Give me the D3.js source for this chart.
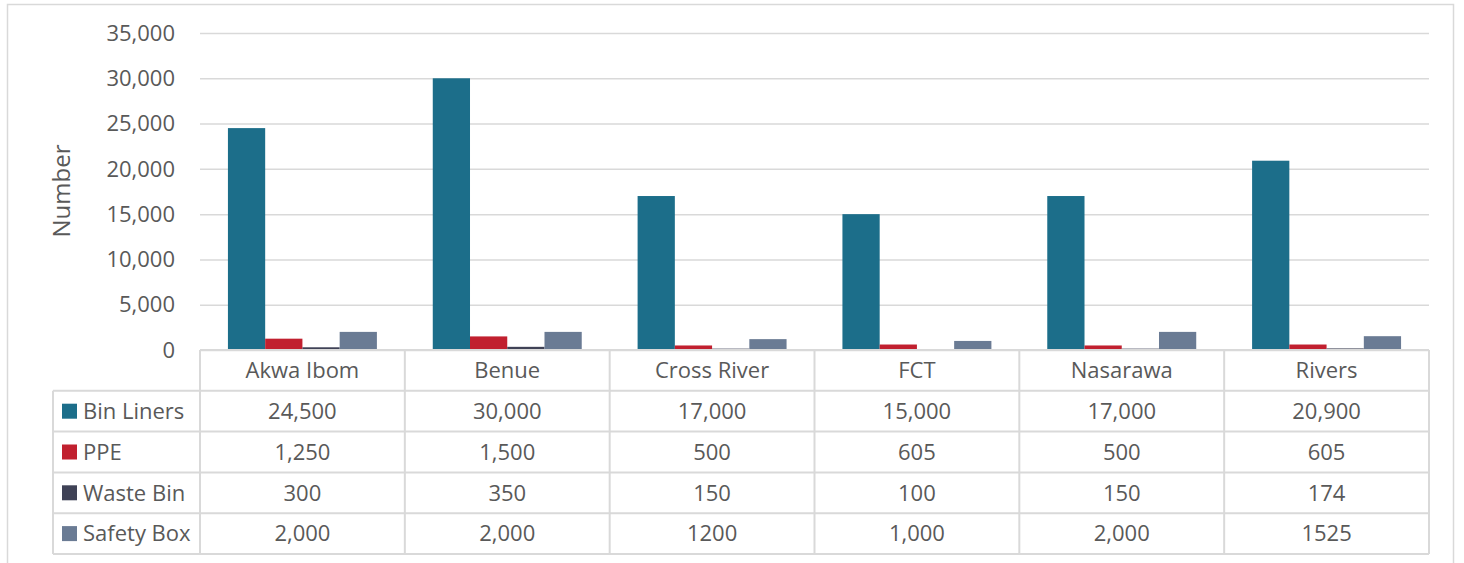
<!DOCTYPE html>
<html>
<head>
    <meta charset="utf-8">
    <style>
        body{
            margin: 0;
            background-color: white;
        }
        svg text{
            font-family: "Open Sans", "Noto Sans", sans-serif;
            fill: #595959;
        }
        .grid line{
            stroke: #d9d9d9;
            stroke-width: 1.5px;
        }
        .grid path{
            stroke-width: 0;
        }
        .table line{
            stroke: #d9d9d9;
            stroke-width: 2px;
        }
    </style>
</head>
<body>
    <svg class="vis"></svg>

    <script src="https://cdnjs.cloudflare.com/ajax/libs/d3/7.8.5/d3.min.js"></script>
    <script>

        var categories = ["Akwa Ibom", "Benue", "Cross River", "FCT", "Nasarawa", "Rivers"];
        var seriesNames = ["Bin Liners", "PPE", "Waste Bin", "Safety Box"];
        var seriesColors = ["#1c6e8a", "#c1202f", "#3f4256", "#6a7b94"];

        var binLiners = [24500, 30000, 17000, 15000, 17000, 20900];
        var ppe = [1250, 1500, 500, 605, 500, 605];
        var wasteBin = [300, 350, 150, 100, 150, 174];
        var safetyBox = [2000, 2000, 1200, 1000, 2000, 1525];

        // table cells are written as in the source (some without separators)
        var binLinersText = ["24,500", "30,000", "17,000", "15,000", "17,000", "20,900"];
        var ppeText = ["1,250", "1,500", "500", "605", "500", "605"];
        var wasteBinText = ["300", "350", "150", "100", "150", "174"];
        var safetyBoxText = ["2,000", "2,000", "1200", "1,000", "2,000", "1525"];

        var yTicks = [0, 5000, 10000, 15000, 20000, 25000, 30000, 35000];

        var series = [binLiners, ppe, wasteBin, safetyBox];
        var seriesText = [binLinersText, ppeText, wasteBinText, safetyBoxText];

        var width = 1464;
        var height = 563;
        var plot = {left: 200, right: 1429, top: 33, bottom: 350};
        var rowH = 40.8;
        var legendLeft = 53;
        var fontSize = 22;

        var vis = d3.select("svg.vis")
                 .attr("width", width)
                 .attr("height", height);

        // chart frame
        vis.append("rect")
            .attr("x", 7.5).attr("y", 4.5)
            .attr("width", 1446).attr("height", 580)
            .attr("fill", "none")
            .attr("stroke", "#d9d9d9")
            .attr("stroke-width", 1.5);

        var x0 = d3.scaleBand()
            .domain(categories)
            .range([plot.left, plot.right]);

        var bw = x0.bandwidth() / 5.5;
        var x1 = d3.scaleBand()
            .domain(seriesNames)
            .range([bw * 0.75, bw * 4.75]);

        var y = d3.scaleLinear()
            .domain([0, 35000])
            .range([plot.bottom, plot.top]);

        // gridlines
        vis.append("g")
            .attr("class", "grid")
            .attr("transform", `translate(${plot.left},0)`)
            .call(d3.axisLeft(y).tickValues(yTicks).tickSize(-(plot.right - plot.left)).tickFormat(""));

        // y tick labels
        vis.append("g")
            .selectAll("text")
            .data(yTicks)
            .enter()
            .append("text")
            .attr("x", 175)
            .attr("y", d => y(d))
            .attr("dy", "0.35em")
            .attr("text-anchor", "end")
            .attr("font-size", fontSize + "px")
            .text(d3.format(","));

        // axis title
        vis.append("text")
            .attr("transform", "translate(70,191) rotate(-90)")
            .attr("text-anchor", "middle")
            .attr("font-size", "24px")
            .text("Number");

        // bars
        var groups = vis.append("g")
            .selectAll("g")
            .data(categories)
            .enter()
            .append("g")
            .attr("transform", d => `translate(${x0(d)},0)`);

        groups.selectAll("rect")
            .data((c, ci) => seriesNames.map((s, si) => ({s: s, si: si, v: series[si][ci]})))
            .enter()
            .append("rect")
            .attr("x", d => x1(d.s))
            .attr("width", x1.bandwidth())
            .attr("y", d => y(d.v))
            .attr("height", d => y(0) - y(d.v))
            .attr("fill", d => seriesColors[d.si]);

        // data table
        var table = vis.append("g").attr("class", "table");
        var nRows = seriesNames.length;
        var tableBottom = plot.bottom + rowH * (nRows + 1);

        // horizontal lines
        table.append("line")
            .attr("x1", plot.left).attr("x2", plot.right)
            .attr("y1", plot.bottom).attr("y2", plot.bottom);
        d3.range(1, nRows + 2).forEach(function(i){
            table.append("line")
                .attr("x1", legendLeft).attr("x2", plot.right)
                .attr("y1", plot.bottom + rowH * i).attr("y2", plot.bottom + rowH * i);
        });

        // vertical lines
        table.append("line")
            .attr("x1", legendLeft).attr("x2", legendLeft)
            .attr("y1", plot.bottom + rowH).attr("y2", tableBottom);
        categories.concat(["_end"]).forEach(function(c, i){
            var xx = plot.left + x0.bandwidth() * i;
            table.append("line")
                .attr("x1", xx).attr("x2", xx)
                .attr("y1", plot.bottom).attr("y2", tableBottom);
        });

        // header row
        table.selectAll("text.cat")
            .data(categories)
            .enter()
            .append("text")
            .attr("class", "cat")
            .attr("x", d => x0(d) + x0.bandwidth() / 2)
            .attr("y", plot.bottom + rowH / 2)
            .attr("dy", "0.35em")
            .attr("text-anchor", "middle")
            .attr("font-size", fontSize + "px")
            .text(d => d);

        // series rows
        seriesNames.forEach(function(s, si){
            var rowMid = plot.bottom + rowH * (si + 1) + rowH / 2;

            table.append("rect")
                .attr("x", 62).attr("y", rowMid - 7.5)
                .attr("width", 15).attr("height", 15)
                .attr("fill", seriesColors[si]);

            table.append("text")
                .attr("x", 83)
                .attr("y", rowMid)
                .attr("dy", "0.35em")
                .attr("font-size", fontSize + "px")
                .text(s);

            table.selectAll("text.v" + si)
                .data(seriesText[si])
                .enter()
                .append("text")
                .attr("class", "v" + si)
                .attr("x", (d, ci) => x0(categories[ci]) + x0.bandwidth() / 2)
                .attr("y", rowMid)
                .attr("dy", "0.35em")
                .attr("text-anchor", "middle")
                .attr("font-size", fontSize + "px")
                .text(d => d);
        });

    </script>
</body>
</html>
